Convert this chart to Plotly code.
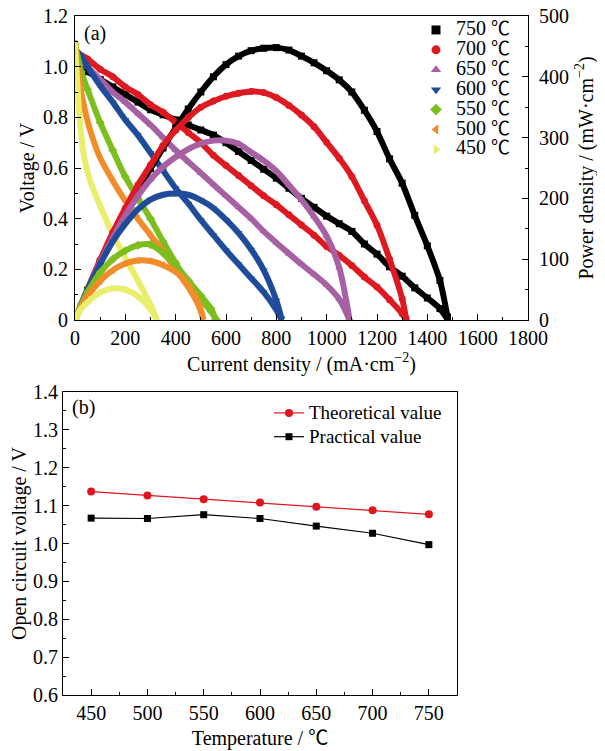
import plotly.graph_objects as go

# ---------------- data: panel (a) ----------------
temps = ["750", "700", "650", "600", "550", "500", "450"]  # ℃

I750 = [0, 50, 100, 150, 200, 250, 300, 350, 400, 450, 500, 550, 600, 650, 700, 750,
        800, 850, 900, 950, 1000, 1050, 1100, 1150, 1200, 1250, 1300, 1350, 1400, 1450, 1480]
V750 = [1.01, 0.98, 0.95, 0.92, 0.89, 0.86, 0.83, 0.81, 0.79, 0.77, 0.75, 0.73, 0.70, 0.665, 0.63, 0.595,
        0.56, 0.52, 0.48, 0.445, 0.41, 0.38, 0.35, 0.30, 0.26, 0.21, 0.173, 0.127, 0.087, 0.045, 0.003]
P750 = [0, 49, 95, 138, 178, 215, 249, 283, 316, 347, 375, 400, 420, 434, 443, 447,
        448, 444, 434, 423, 410, 395, 375, 345, 310, 265, 225, 172, 122, 65, 5]

I700 = [0, 50, 100, 150, 200, 250, 300, 350, 400, 450, 500, 550, 600, 650, 700, 750,
        800, 850, 900, 950, 1000, 1050, 1100, 1150, 1200, 1250, 1300, 1315]
V700 = [1.06, 1.03, 0.99, 0.96, 0.92, 0.89, 0.85, 0.82, 0.78, 0.74, 0.70, 0.65, 0.61, 0.57, 0.53, 0.49,
        0.455, 0.415, 0.375, 0.335, 0.29, 0.255, 0.215, 0.17, 0.13, 0.08, 0.025, 0.002]
P700 = [0, 51, 99, 144, 184, 222, 255, 287, 312, 333, 350, 360, 368, 373, 376, 374,
        366, 353, 337, 318, 292, 266, 236, 196, 156, 100, 35, 3]

I650 = [0, 50, 100, 150, 200, 250, 300, 350, 400, 450, 500, 550, 600, 650, 700, 750,
        800, 850, 900, 950, 1000, 1050, 1090]
V650 = [1.07, 1.0, 0.95, 0.90, 0.86, 0.815, 0.77, 0.72, 0.67, 0.625, 0.58, 0.535, 0.49, 0.445, 0.40, 0.35,
        0.305, 0.262, 0.22, 0.18, 0.138, 0.082, 0.003]
P650 = [0, 50, 95, 135, 172, 204, 231, 252, 268, 281, 290, 295, 295, 290, 276, 262,
        245, 222, 198, 170, 138, 86, 3]

I600 = [0, 25, 50, 100, 150, 200, 250, 300, 350, 400, 450, 500, 550, 600, 650, 700, 750, 800, 820]
V600 = [1.07, 1.04, 1.0, 0.925, 0.86, 0.79, 0.73, 0.66, 0.59, 0.52, 0.46, 0.395, 0.335, 0.275, 0.22,
        0.165, 0.11, 0.04, 0.003]
P600 = [0, 26, 50, 92, 129, 158, 182, 198, 206, 208, 206, 197, 184, 165, 143, 116, 82, 32, 3]

I550 = [0, 25, 50, 100, 150, 200, 250, 300, 350, 400, 450, 500, 540, 560]
V550 = [1.09, 0.98, 0.91, 0.78, 0.67, 0.565, 0.48, 0.40, 0.31, 0.225, 0.145, 0.08, 0.035, 0.002]
P550 = [0, 25, 46, 78, 100, 114, 123, 124, 110, 90, 65, 40, 19, 1]

I500 = [0, 10, 30, 60, 100, 150, 200, 250, 300, 350, 400, 450, 490, 510]
V500 = [1.09, 1.0, 0.87, 0.75, 0.64, 0.55, 0.47, 0.40, 0.335, 0.27, 0.20, 0.13, 0.06, 0.002]
P500 = [0, 10, 26, 45, 64, 82, 93, 98, 97, 90, 79, 57, 29, 1]

I450 = [0, 5, 10, 20, 35, 60, 100, 150, 200, 250, 300, 325]
V450 = [1.09, 1.0, 0.92, 0.78, 0.65, 0.55, 0.45, 0.34, 0.245, 0.155, 0.06, 0.002]
P450 = [0, 5, 9, 16, 23, 33, 45, 52, 50, 39, 18, 1]

currents = [I750, I700, I650, I600, I550, I500, I450]
voltages = [V750, V700, V650, V600, V550, V500, V450]
powers = [P750, P700, P650, P600, P550, P500, P450]

colors = ["#000000", "#DD1A21", "#A660A3", "#1F4C9A", "#7DBE1F", "#F28C2B", "#E9EE6B"]
symbols = ["square", "circle", "triangle-up", "triangle-down", "diamond", "triangle-left", "triangle-right"]

# ---------------- data: panel (b) ----------------
T = [450, 500, 550, 600, 650, 700, 750]
ocv_theory = [1.137, 1.127, 1.117, 1.108, 1.097, 1.088, 1.077]
ocv_practical = [1.067, 1.066, 1.076, 1.066, 1.046, 1.027, 0.997]

FONT = "Liberation Serif, Times New Roman, serif"
DEG = '<span style="font-family:Noto Sans CJK SC">℃</span>'


def serif(txt, size):
    return '<span style="font-family:Liberation Serif;font-size:%dpx">%s</span>' % (size, txt)


fig = go.Figure()

for i in range(len(temps)):
    fig.add_trace(go.Scatter(
        x=currents[i], y=voltages[i], xaxis="x", yaxis="y",
        mode="lines+markers", line=dict(color=colors[i], width=6, shape="spline", smoothing=0.8),
        marker=dict(symbol=symbols[i], size=7, color=colors[i]),
        showlegend=False, hoverinfo="skip"))
for i in range(len(temps)):
    fig.add_trace(go.Scatter(
        x=currents[i], y=powers[i], xaxis="x", yaxis="y2",
        mode="lines+markers", line=dict(color=colors[i], width=6, shape="spline", smoothing=0.8),
        marker=dict(symbol=symbols[i], size=7, color=colors[i]),
        showlegend=False, hoverinfo="skip"))
# legend entries (marker only)
for i in range(len(temps)):
    fig.add_trace(go.Scatter(
        x=[None], y=[None], xaxis="x", yaxis="y",
        mode="markers", marker=dict(symbol=symbols[i], size=9, color=colors[i]),
        name=serif(temps[i] + " ", 20) + '<span style="font-family:Noto Sans CJK SC;font-size:19px">℃</span>',
        legend="legend"))

fig.add_trace(go.Scatter(
    x=T, y=ocv_theory, xaxis="x2", yaxis="y3", mode="lines+markers",
    line=dict(color="#E0141E", width=1.2), marker=dict(symbol="circle", size=8, color="#E0141E"),
    name=serif("Theoretical value", 19), legend="legend2"))
fig.add_trace(go.Scatter(
    x=T, y=ocv_practical, xaxis="x2", yaxis="y3", mode="lines+markers",
    line=dict(color="#000000", width=1.2), marker=dict(symbol="square", size=7, color="#000000"),
    name=serif("Practical value", 19), legend="legend2"))

# page body has an 8px margin; the figure is sized so it fits the 605x751 window
OFF = 8
W, H = 605 - OFF, 751 - OFF
# plot-area edges, in window pixels
L_WIN, R_WIN, T_WIN, B_WIN = 63, 528, 16, 695
ML, MR, MT, MB = L_WIN - OFF, W - (R_WIN - OFF), T_WIN - OFF, H - (B_WIN - OFF)
PW, PH = W - ML - MR, H - MT - MB


def fx(px):  # window px -> paper fraction
    return (px - L_WIN) / PW


def fy(py):
    return 1 - (py - T_WIN) / PH


ax_common = dict(showline=True, linecolor="black", linewidth=1, ticks="inside", ticklen=6,
                 tickcolor="black", showgrid=False, zeroline=False, automargin=False,
                 ticklabeloverflow="allow",
                 tickfont=dict(family=FONT, size=20, color="black"),
                 title_font=dict(family=FONT, size=20, color="black"))

fig.update_layout(
    width=W, height=H, margin=dict(l=ML, r=MR, t=MT, b=MB, autoexpand=False),
    paper_bgcolor="white", plot_bgcolor="white",
    font=dict(family=FONT, color="black"),
    xaxis=dict(**ax_common, domain=[fx(75), 1.0], range=[0, 1800], anchor="y",
               tickvals=[0, 200, 400, 600, 800, 1000, 1200, 1400, 1600, 1800],
               minor=dict(ticks="inside", ticklen=3, dtick=100, tickcolor="black"),
               mirror=True,
               title=dict(text="Current density / (mA·cm<sup>−2</sup>)", standoff=8)),
    yaxis=dict(**ax_common, domain=[fy(320), 1.0], range=[0, 1.2], anchor="x",
               tickvals=[0, 0.2, 0.4, 0.6, 0.8, 1.0, 1.2],
               ticktext=["0", "0.2", "0.4", "0.6", "0.8", "1.0", "1.2"],
               minor=dict(ticks="inside", ticklen=3, dtick=0.1, tickcolor="black"),
               ticklabelstandoff=2,
               title=dict(text="Voltage / V", standoff=3)),
    yaxis2=dict(**ax_common, overlaying="y", side="right", anchor="x", range=[0, 500],
                tickvals=[0, 100, 200, 300, 400, 500],
                minor=dict(ticks="inside", ticklen=3, dtick=50, tickcolor="black"),
                ticklabelstandoff=6,
                title=dict(text="Power density / (mW·cm<sup>−2</sup>)", standoff=10)),
    xaxis2=dict(**ax_common, domain=[0.0, fx(457)], range=[425, 775], anchor="y3",
                tickvals=T, mirror=True,
                minor=dict(ticks="inside", ticklen=3, dtick=25, tick0=425, tickcolor="black"),
                title=dict(text="Temperature / " + DEG, standoff=8)),
    yaxis3=dict(**ax_common, domain=[0.0, fy(392)], range=[0.6, 1.4], anchor="x2",
                tickvals=[0.6, 0.7, 0.8, 0.9, 1.0, 1.1, 1.2, 1.3, 1.4],
                ticktext=["0.6", "0.7", "0.8", "0.9", "1.0", "1.1", "1.2", "1.3", "1.4"],
                minor=dict(ticks="inside", ticklen=3, dtick=0.05, tickcolor="black"),
                mirror=True,
                title=dict(text="Open circuit voltage / V", standoff=6)),
    legend=dict(x=fx(416), y=fy(15), xanchor="left", yanchor="top",
                bgcolor="rgba(0,0,0,0)", font=dict(family=FONT, size=13, color="black"),
                itemwidth=30, tracegroupgap=0),
    legend2=dict(x=fx(269), y=fy(396), xanchor="left", yanchor="top",
                 bgcolor="rgba(0,0,0,0)", font=dict(family=FONT, size=16, color="black"),
                 itemwidth=30),
    annotations=[
        dict(text="(a)", x=fx(82), y=fy(33), xref="paper", yref="paper", showarrow=False,
             xanchor="left", yanchor="middle", font=dict(family=FONT, size=20, color="black")),
        dict(text="(b)", x=fx(70), y=fy(408), xref="paper", yref="paper", showarrow=False,
             xanchor="left", yanchor="middle", font=dict(family=FONT, size=20, color="black")),
    ],
)

fig.write_html("out.html")
